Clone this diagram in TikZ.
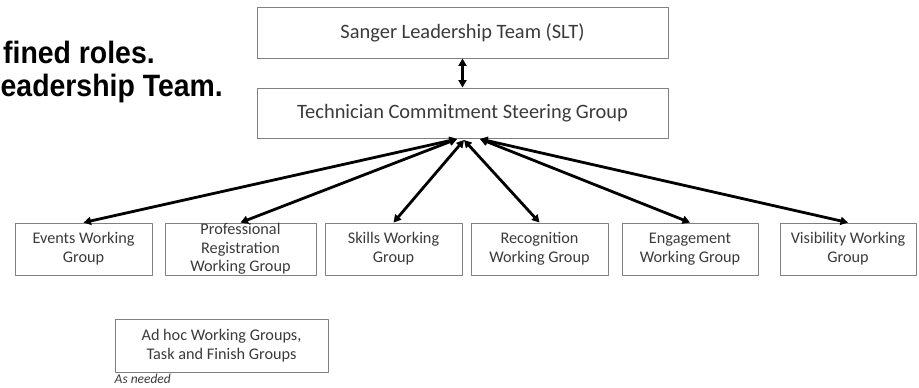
\documentclass[tikz,border=0pt]{standalone}
\usepackage{fontspec}
\setmainfont{Carlito}
\newfontfamily\headfont{Liberation Sans}
\usetikzlibrary{arrows.meta,positioning}

\definecolor{boxline}{HTML}{808080}
\definecolor{boxtext}{HTML}{3A3A3A}

\tikzset{
  box/.style={draw=boxline,line width=0.9bp,text=boxtext,align=center,
    inner sep=0pt,font=\fontsize{16.3}{18.8}\selectfont},
  top/.style={box,minimum width=411bp,font=\fontsize{20.5}{24}\selectfont},
  wg/.style={box,minimum width=137bp,minimum height=52bp},
  head/.style={anchor=base west,inner sep=0pt,xscale=0.92,text=black,
    font=\headfont\bfseries\fontsize{31}{33}\selectfont},
  link/.style={line width=2.8bp,
    {Triangle[length=7.5bp,width=8bp]}-{Triangle[length=7.5bp,width=8bp]}},
}

\begin{document}
\begin{tikzpicture}[x=1bp,y=-1bp,line cap=round,line join=round]
  \useasboundingbox (0,0) rectangle (919,387);

  % heading
  \node[head] (headA) at (3,63) {fined roles.};
  \node[head] (headB) at (0.5,96) {eadership Team.};

  % top levels
  \node[top,minimum height=51bp] (slt) at (462.5,32.5) {Sanger Leadership Team (SLT)};
  \node[top,minimum height=50bp] (tcsg) at (462.5,113) {Technician Commitment Steering Group};
  \draw[link] (slt.south) -- (tcsg.north);

  % working groups
  \node[wg] (events) at (83.5,249) {Events Working\\Group};
  \node[wg,minimum width=151bp] (prof) at (240.5,249) {Professional\\Registration\\Working Group};
  \node[wg] (skills) at (393.5,249) {Skills Working\\Group};
  \node[wg] (recog) at (539.5,249) {Recognition\\Working Group};
  \node[wg,minimum width=136bp] (engage) at (690,249) {Engagement\\Working Group};
  \node[wg,minimum width=136bp] (visib) at (848,249) {Visibility Working\\Group};

  \coordinate (hubA) at (457,139);
  \coordinate (hubB) at (464,140);
  \coordinate (hubC) at (480,139);
  \draw[link] (events.north) -- (hubA);
  \draw[link] (prof.north) -- (hubA);
  \draw[link] (skills.north) -- (hubB);
  \draw[link] (recog.north) -- (hubB);
  \draw[link] (engage.north) -- (hubC);
  \draw[link] (visib.north) -- (hubC);

  % ad hoc groups
  \node[box,minimum width=213bp,minimum height=53bp] (adhoc) at (221.5,345.5) {Ad hoc Working Groups,\\Task and Finish Groups};
  \node[anchor=north west,inner sep=0pt,text=boxtext,font=\itshape\fontsize{13.5}{15}\selectfont] (needed) at ([yshift=-2bp]adhoc.south west) {As needed};
\end{tikzpicture}
\end{document}
